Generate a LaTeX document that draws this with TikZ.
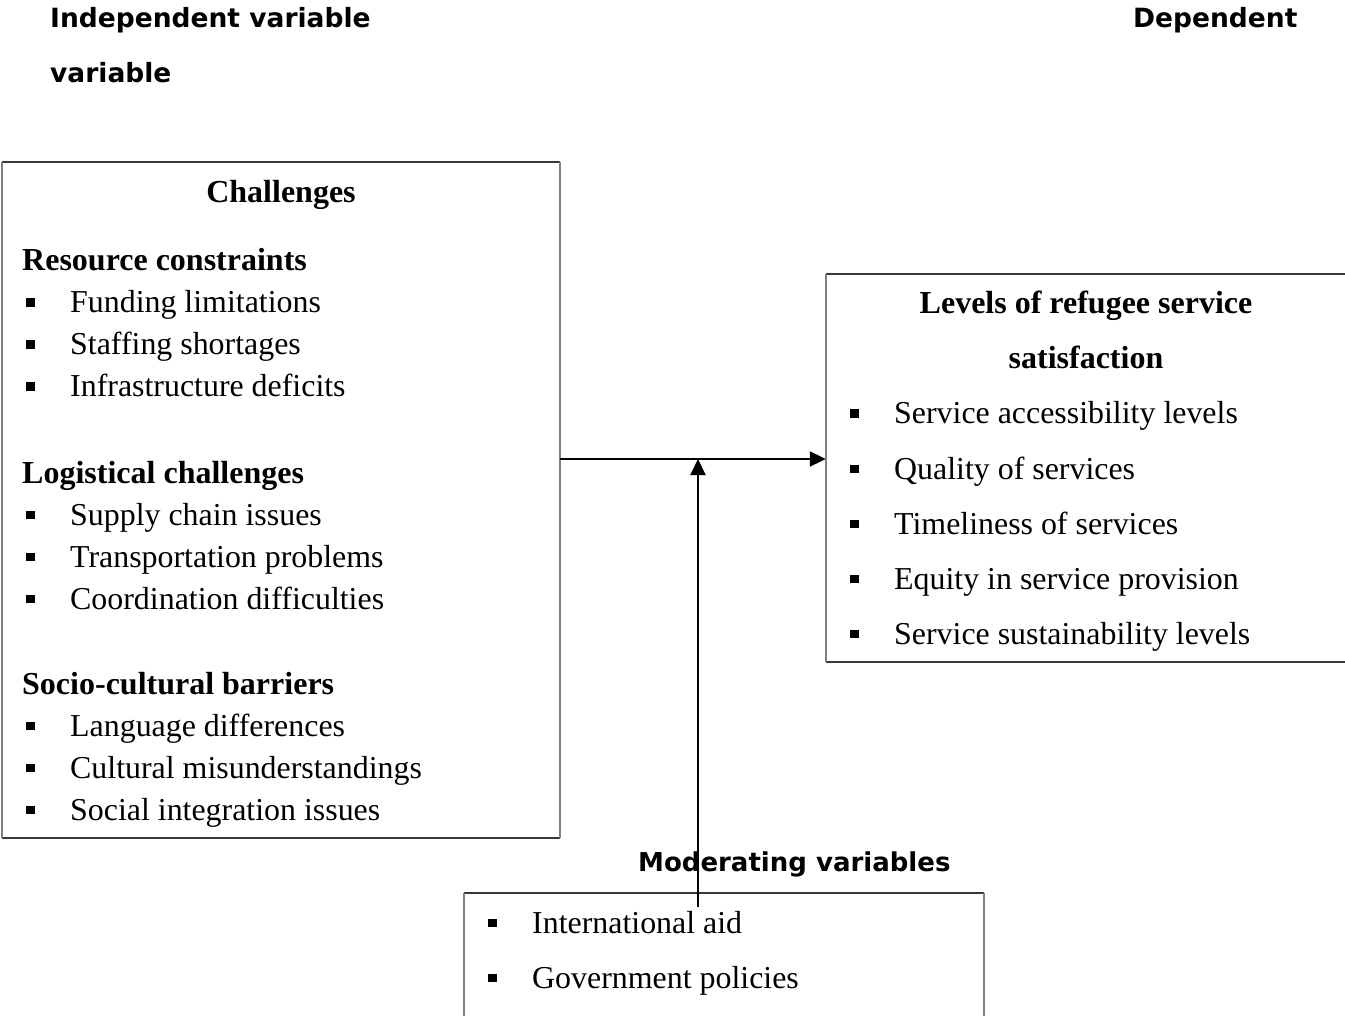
\documentclass[tikz,border=0pt]{standalone}
\usepackage{fontspec}
\setmainfont{Liberation Serif}
\newfontfamily\headsans{DejaVu Sans}
\usetikzlibrary{arrows.meta}

% square bullet followed by the gap before the item text
\newcommand\itembullet{\rule[6pt]{8.5pt}{8.5pt}\hspace{35.5pt}}

\begin{document}
\begin{tikzpicture}[x=1pt,y=-1pt,
  txt/.style={inner sep=0pt, anchor=base west, font=\fontsize{31.9}{37}\selectfont},
  ttl/.style={inner sep=0pt, anchor=base, font=\fontsize{32}{37}\selectfont\bfseries},
  sub/.style={inner sep=0pt, anchor=base west, font=\fontsize{32}{37}\selectfont\bfseries},
  hdr/.style={inner sep=0pt, anchor=base west, font=\headsans\bfseries\fontsize{26.5}{32}\selectfont},
  box/.style={inner sep=0pt, draw=none},
  hedge/.style={draw=black!78, line width=1.6pt},
  vedge/.style={draw=black!50, line width=1.8pt},
  arr/.style={line width=2pt, -{Triangle[length=16pt,width=15pt]}},
]
\useasboundingbox (0,0) rectangle (1345,1016);
\clip (0,0) rectangle (1345,1016);

% column headings
\node[hdr] (hind) at (50,28) {Independent variable};
\node[hdr] (hvar) at (50,83) {variable};
\node[hdr] (hdep) at (1133,28) {Dependent};

% frames
\node[box, minimum width=558pt, minimum height=676pt] (L) at (281,500) {};
\node[box, minimum width=549pt, minimum height=388pt] (R) at (1100.5,468) {};
\node[box, minimum width=520pt, minimum height=150pt] (B) at (724,968) {};
\foreach \b in {L,R,B}{
  \draw[hedge] (\b.north west) -- (\b.north east);
  \draw[hedge] (\b.south west) -- (\b.south east);
  \draw[vedge] (\b.north west) -- (\b.south west);
  \draw[vedge] (\b.north east) -- (\b.south east);
}

% independent variable: challenges
\node[ttl] (chal) at (281,203) {Challenges};
\node[sub] (res) at (22,271) {Resource constraints};
\node[txt] (res1) at (26,313) {\itembullet Funding limitations};
\node[txt] (res2) at (26,355) {\itembullet Staffing shortages};
\node[txt] (res3) at (26,397) {\itembullet Infrastructure deficits};
\node[sub] (log) at (22,483) {Logistical challenges};
\node[txt] (log1) at (26,525) {\itembullet Supply chain issues};
\node[txt] (log2) at (26,567) {\itembullet Transportation problems};
\node[txt] (log3) at (26,609) {\itembullet Coordination difficulties};
\node[sub] (soc) at (22,694) {Socio-cultural barriers};
\node[txt] (soc1) at (26,736) {\itembullet Language differences};
\node[txt] (soc2) at (26,778) {\itembullet Cultural misunderstandings};
\node[txt] (soc3) at (26,820) {\itembullet Social integration issues};

% dependent variable: satisfaction
\node[ttl] (sat1) at (1086,314) {Levels of refugee service};
\node[ttl] (sat2) at (1086,369) {satisfaction};
\node[txt] (d1) at (850,424) {\itembullet Service accessibility levels};
\node[txt] (d2) at (850,479) {\itembullet Quality of services};
\node[txt] (d3) at (850,534) {\itembullet Timeliness of services};
\node[txt] (d4) at (850,589) {\itembullet Equity in service provision};
\node[txt] (d5) at (850,644) {\itembullet Service sustainability levels};

% moderating variables
\node[hdr, font=\headsans\bfseries\fontsize{26}{32}\selectfont] (mod) at (638,871) {Moderating variables};
\node[txt] (m1) at (488,933) {\itembullet International aid};
\node[txt] (m2) at (488,988) {\itembullet Government policies};

% connectors
\coordinate (hy) at (0,459);
\coordinate (vs) at (698,907);
\draw[arr] (L.east |- hy) -- (R.west |- hy);
\draw[arr] (vs) -- (vs |- hy);
\end{tikzpicture}
\end{document}
